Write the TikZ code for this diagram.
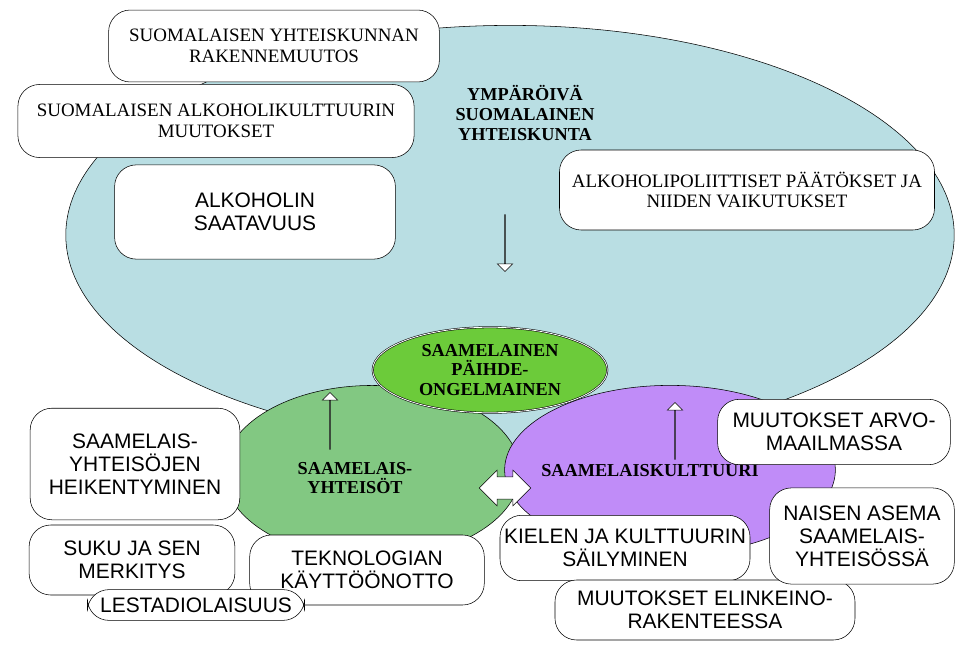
\documentclass[tikz,border=0pt]{standalone}
\usepackage{fontspec}
\setmainfont{Liberation Serif}
\setsansfont{Liberation Sans}
\usetikzlibrary{shapes.geometric, shapes.arrows, positioning}

\definecolor{skyfill}{HTML}{B9DEE3}
\definecolor{greenfill}{HTML}{82C882}
\definecolor{violetfill}{HTML}{C08CF8}
\definecolor{limefill}{HTML}{6CCB3A}

\tikzset{
  pill/.style={draw, fill=white, rounded corners=16pt, align=center, inner sep=0pt},
  serifbox/.style={pill, font=\fontsize{14}{15.5}\selectfont},
  sansbox/.style={pill, font=\sffamily\fontsize{15.5}{17}\selectfont},
  heading/.style={align=center, font=\bfseries\fontsize{13.5}{14.5}\selectfont},
  blockarrow/.style={draw, fill=white, single arrow, single arrow head extend=5.5pt,
    minimum height=42pt, inner xsep=0pt, inner ysep=11pt},
}

\begin{document}
\begin{tikzpicture}[x=0.026cm, y=-0.026cm]
\useasboundingbox (0,0) rectangle (960,646);

% ellipses
\node[ellipse, draw, fill=skyfill, minimum width=23.1cm, minimum height=10.9cm] (society) at (510,235) {};
\node[ellipse, draw, fill=greenfill, minimum width=7.7cm, minimum height=4.5cm] (community) at (372,472) {};
\node[ellipse, draw, fill=violetfill, minimum width=8.6cm, minimum height=4.4cm] (culture) at (670,470) {};
\node[ellipse, draw, double, fill=limefill, minimum width=6.1cm, minimum height=2.1cm,
  heading] (addict) at (490,370) {SAAMELAINEN\\PÄIHDE-\\ONGELMAINEN};

% labels
\node[heading] (surround) at (525,113) {YMPÄRÖIVÄ\\SUOMALAINEN\\YHTEISKUNTA};
\node[heading] (communitylabel) at (355,478) {SAAMELAIS-\\YHTEISÖT};
\node[heading] (culturelabel) at (650,471) {SAAMELAISKULTTUURI};

% arrows
\node[blockarrow, shape border rotate=270] (down) at (505,243) {};
\node[blockarrow, shape border rotate=90] (upleft) at (330,421) {};
\node[blockarrow, shape border rotate=90] (upright) at (675,431) {};
\node[draw, fill=white, double arrow, double arrow head extend=5pt, minimum height=38pt,
  inner xsep=0pt, inner ysep=8pt] (both) at (505,488) {};

% boxes
\node[serifbox, minimum width=8.6cm, minimum height=1.87cm] (change) at (274,46) {SUOMALAISEN YHTEISKUNNAN\\RAKENNEMUUTOS};
\node[serifbox, minimum width=10.3cm, minimum height=1.9cm] (culturechange) at (216,121) {SUOMALAISEN ALKOHOLIKULTTUURIN\\MUUTOKSET};
\node[sansbox, minimum width=7.3cm, minimum height=2.45cm] (supply) at (255,212) {ALKOHOLIN\\SAATAVUUS};
\node[serifbox, minimum width=9.75cm, minimum height=2.08cm] (policy) at (747,190) {ALKOHOLIPOLIITTISET PÄÄTÖKSET JA\\NIIDEN VAIKUTUKSET};
\node[sansbox, minimum width=5.45cm, minimum height=2.9cm] (weaken) at (135,464) {SAAMELAIS-\\YHTEISÖJEN\\HEIKENTYMINEN};
\node[sansbox, minimum width=5.35cm, minimum height=1.82cm] (kin) at (132,560) {SUKU JA SEN\\MERKITYS};
\node[sansbox, minimum width=6.1cm, minimum height=1.82cm] (tech) at (367,570) {TEKNOLOGIAN\\KÄYTTÖÖNOTTO};
\node[sansbox, minimum width=5.65cm, minimum height=0.8cm] (laestad) at (196,605) {LESTADIOLAISUUS};
\node[sansbox, minimum width=6.5cm, minimum height=1.7cm] (language) at (625,548) {KIELEN JA KULTTUURIN\\SÄILYMINEN};
\node[sansbox, minimum width=7.8cm, minimum height=1.56cm] (trade) at (705,610) {MUUTOKSET ELINKEINO-\\RAKENTEESSA};
\node[sansbox, minimum width=4.8cm, minimum height=2.5cm] (woman) at (862,536) {NAISEN ASEMA\\SAAMELAIS-\\YHTEISÖSSÄ};
\node[sansbox, minimum width=6.05cm, minimum height=1.7cm] (values) at (834,432) {MUUTOKSET ARVO-\\MAAILMASSA};
\end{tikzpicture}
\end{document}
